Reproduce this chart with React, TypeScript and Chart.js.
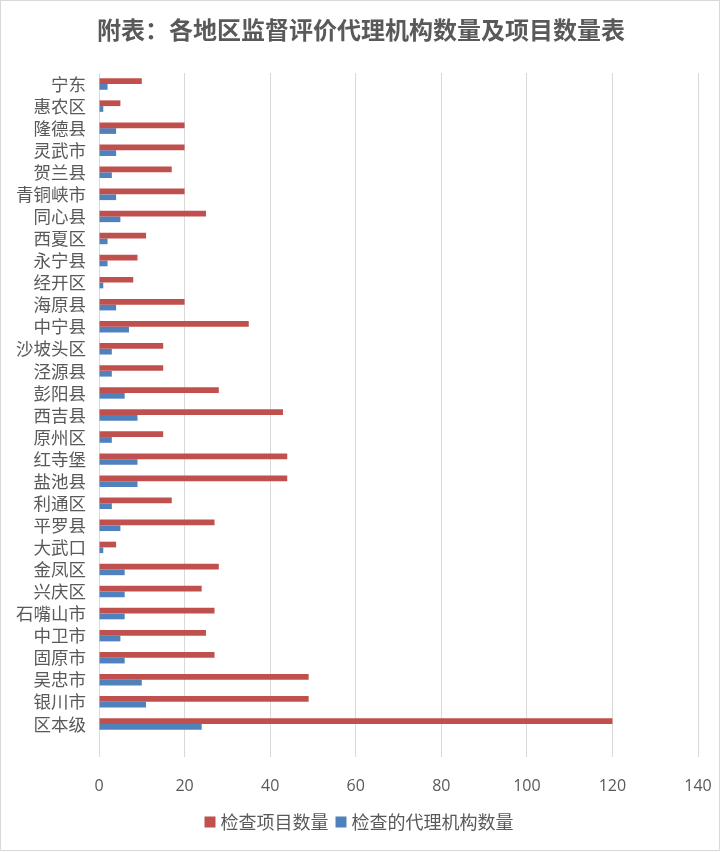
import React, { useEffect, useRef } from "react";
import { Chart, registerables } from "chart.js";

Chart.register(...registerables);

const categories = [
  "宁东", "惠农区", "隆德县", "灵武市", "贺兰县", "青铜峡市", "同心县", "西夏区", "永宁县", "经开区",
  "海原县", "中宁县", "沙坡头区", "泾源县", "彭阳县", "西吉县", "原州区", "红寺堡", "盐池县", "利通区",
  "平罗县", "大武口", "金凤区", "兴庆区", "石嘴山市", "中卫市", "固原市", "吴忠市", "银川市", "区本级",
];

const projectCounts = [
  10, 5, 20, 20, 17, 20, 25, 11, 9, 8,
  20, 35, 15, 15, 28, 43, 15, 44, 44, 17,
  27, 4, 28, 24, 27, 25, 27, 49, 49, 120,
];

const agencyCounts = [
  2, 1, 4, 4, 3, 4, 5, 2, 2, 1,
  4, 7, 3, 3, 6, 9, 3, 9, 9, 3,
  5, 1, 6, 6, 6, 5, 6, 10, 11, 24,
];

const seriesNames = ["检查项目数量", "检查的代理机构数量"];
const seriesColors = ["#C0504D", "#4F81BD"];
const titleText = "附表：各地区监督评价代理机构数量及项目数量表";

const CJK = "'Noto Sans CJK SC', 'Noto Sans', sans-serif";
const TEXT = "#595959";

const decorPlugin = {
  id: "decor",
  afterDraw(chart: any) {
    const ctx = chart.ctx;
    ctx.save();
    // outer border
    ctx.strokeStyle = "#D9D9D9";
    ctx.lineWidth = 1;
    ctx.strokeRect(0.5, 0.5, 719, 850);
    // title
    ctx.fillStyle = TEXT;
    ctx.font = `bold 24px ${CJK}`;
    ctx.textAlign = "center";
    ctx.textBaseline = "middle";
    ctx.fillText(titleText, 361, 30);
    // legend
    ctx.font = `18px ${CJK}`;
    ctx.textAlign = "left";
    const box = 11;
    const gapBoxText = 5;
    const gapItems = 7;
    const widths = seriesNames.map((s) => ctx.measureText(s).width);
    const total = widths.reduce((a, w) => a + box + gapBoxText + w, 0) + gapItems * (seriesNames.length - 1);
    let x = 359 - total / 2;
    const cy = 822;
    seriesNames.forEach((name, i) => {
      ctx.fillStyle = seriesColors[i];
      ctx.fillRect(x, cy - box / 2, box, box);
      x += box + gapBoxText;
      ctx.fillStyle = TEXT;
      ctx.fillText(name, x, cy);
      x += widths[i] + gapItems;
    });
    ctx.restore();
  },
};

export default function App() {
  const ref = useRef<HTMLCanvasElement | null>(null);

  useEffect(() => {
    if (!ref.current) return;
    const chart = new Chart(ref.current, {
      type: "bar",
      data: {
        labels: [...categories, ""],
        datasets: [
          {
            label: seriesNames[0],
            data: projectCounts,
            backgroundColor: seriesColors[0],
            categoryPercentage: 0.52,
            barPercentage: 1,
          },
          {
            label: seriesNames[1],
            data: agencyCounts,
            backgroundColor: seriesColors[1],
            categoryPercentage: 0.52,
            barPercentage: 1,
          },
        ],
      },
      options: {
        indexAxis: "y",
        responsive: false,
        animation: false,
        layout: { padding: { left: 0, right: 25, top: 73, bottom: 43 } },
        plugins: {
          title: { display: false },
          legend: { display: false },
          tooltip: { enabled: false },
        },
        scales: {
          x: {
            min: 0,
            max: 140,
            ticks: {
              stepSize: 20,
              color: TEXT,
              font: { family: "'Open Sans', 'Noto Sans', sans-serif", size: 16 },
              padding: 6,
            },
            grid: { color: "#D9D9D9", drawTicks: true, tickLength: 14, tickColor: "rgba(0,0,0,0)" },
            border: { display: false },
            afterFit(scale: any) {
              scale.height = 52;
            },
          },
          y: {
            ticks: {
              color: TEXT,
              font: { family: CJK, size: 17.5 },
              padding: 13,
              autoSkip: false,
            },
            grid: { display: false, drawTicks: false },
            border: { display: false },
            afterFit(scale: any) {
              scale.width = 99;
            },
          },
        },
      },
      plugins: [decorPlugin],
    });
    return () => chart.destroy();
  }, []);

  return (
    <div style={{ position: "absolute", left: 0, top: 0, width: 723, height: 852, background: "#fff" }}>
      <canvas ref={ref} width={723} height={852} style={{ display: "block" }} />
    </div>
  );
}
